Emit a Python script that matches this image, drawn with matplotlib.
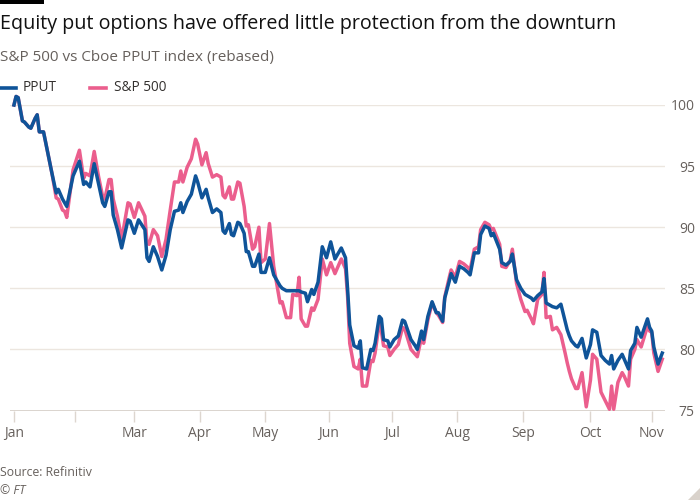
import matplotlib
matplotlib.use("Agg")
import matplotlib.pyplot as plt
from matplotlib.lines import Line2D
from matplotlib.patches import Polygon, Rectangle
import pandas as pd

plt.rcParams['font.family'] = ['Open Sans', 'DejaVu Sans']

# data (rebased to 100 on 3 Jan 2022)
dates = ["01-03", "01-04", "01-05", "01-07", "01-08", "01-10", "01-11", "01-13", "01-14", "01-15",
         "01-17", "01-19", "01-21", "01-23", "01-24", "01-26", "01-27", "01-28", "01-31", "02-03",
         "02-05", "02-06", "02-08", "02-10", "02-12", "02-14", "02-15", "02-17", "02-18", "02-19",
         "02-21", "02-23", "02-26", "02-27", "03-01", "03-03", "03-06", "03-07", "03-08", "03-10",
         "03-12", "03-14", "03-16", "03-18", "03-20", "03-22", "03-23", "03-24", "03-26", "03-28",
         "03-30", "03-31", "04-02", "04-04", "04-05", "04-07", "04-09", "04-11", "04-12", "04-13",
         "04-15", "04-16", "04-17", "04-19", "04-20", "04-22", "04-23", "04-24", "04-26", "04-27",
         "04-29", "04-30", "05-02", "05-04", "05-06", "05-09", "05-10", "05-12", "05-14", "05-15",
         "05-17", "05-18", "05-19", "05-21", "05-22", "05-24", "05-25", "05-27", "05-29", "05-31",
         "06-02", "06-04", "06-07", "06-09", "06-10", "06-11", "06-13", "06-15", "06-16", "06-17",
         "06-19", "06-21", "06-22", "06-23", "06-25", "06-26", "06-27", "06-29", "06-30", "07-02",
         "07-04", "07-06", "07-07", "07-10", "07-12", "07-13", "07-15", "07-16", "07-18", "07-20",
         "07-22", "07-23", "07-25", "07-26", "07-28", "07-29", "07-31", "08-02", "08-04", "08-06",
         "08-07", "08-09", "08-11", "08-12", "08-14", "08-16", "08-17", "08-18", "08-21", "08-22",
         "08-24", "08-26", "08-27", "08-29", "08-31", "09-02", "09-03", "09-05", "09-06", "09-08",
         "09-10", "09-11", "09-12", "09-14", "09-15", "09-17", "09-19", "09-21", "09-22", "09-23",
         "09-24", "09-26", "09-27", "09-29", "10-01", "10-03", "10-04", "10-06", "10-08", "10-10",
         "10-12", "10-13", "10-14", "10-16", "10-18", "10-19", "10-21", "10-22", "10-24", "10-25",
         "10-27", "10-30", "10-31", "11-01", "11-02", "11-04", "11-06"]

pput = [100.0, 100.7, 100.6, 98.7, 98.6, 98.2, 98.1, 98.9, 99.2, 97.8,
        97.8, 96.1, 94.4, 92.8, 93.1, 92.3, 92.0, 91.7, 94.2, 95.4,
        93.5, 93.7, 93.3, 95.2, 93.6, 92.0, 91.7, 92.9, 92.9, 91.0,
        89.8, 88.3, 90.6, 90.5, 89.5, 90.6, 89.8, 87.5, 87.2, 88.4,
        87.6, 86.5, 87.7, 89.8, 91.3, 91.4, 92.0, 91.2, 92.1, 92.7,
        94.2, 93.7, 92.4, 93.1, 92.4, 91.2, 91.5, 91.2, 89.7, 89.5,
        90.3, 89.4, 89.3, 90.4, 90.3, 89.5, 88.0, 88.0, 86.8, 86.8,
        87.8, 86.3, 86.3, 87.5, 86.1, 85.2, 85.0, 84.8, 84.8, 84.8,
        84.8, 84.8, 84.7, 84.6, 83.9, 84.9, 84.5, 85.5, 88.4, 87.5,
        88.8, 87.4, 88.3, 87.5, 84.9, 82.0, 80.3, 80.1, 80.7, 78.5,
        78.4, 80.0, 79.9, 80.5, 82.7, 82.5, 80.8, 80.7, 80.2, 80.8,
        81.1, 82.4, 82.3, 80.8, 80.3, 80.0, 81.5, 80.8, 82.7, 83.9,
        83.0, 83.0, 82.3, 84.2, 85.5, 86.2, 85.5, 86.8, 86.6, 86.3,
        86.1, 87.9, 87.9, 89.4, 90.1, 89.9, 89.3, 89.5, 88.2, 87.1,
        86.9, 87.2, 87.8, 85.7, 85.0, 84.5, 84.4, 84.2, 84.0, 84.4,
        84.7, 85.8, 83.8, 83.6, 83.5, 83.4, 83.7, 82.3, 81.6, 81.1,
        80.7, 80.3, 80.2, 80.9, 79.3, 80.4, 81.6, 81.4, 79.5, 79.1,
        78.8, 79.5, 78.4, 79.1, 79.6, 79.2, 78.4, 79.9, 80.5, 81.8,
        81.0, 82.5, 81.8, 81.5, 80.2, 78.8, 79.7]

spx = [100.0, 100.7, 100.6, 98.7, 98.6, 98.2, 98.1, 98.9, 99.2, 97.8,
       97.8, 96.1, 94.4, 92.4, 92.3, 91.4, 91.3, 90.8, 94.7, 96.3,
       94.0, 94.4, 94.2, 96.2, 94.2, 92.5, 92.3, 93.9, 93.9, 92.3,
       90.9, 89.0, 92.0, 91.9, 90.8, 92.0, 90.9, 88.7, 88.6, 89.8,
       89.3, 87.6, 89.0, 91.4, 93.7, 93.7, 94.6, 93.7, 94.9, 95.6,
       97.2, 96.8, 95.1, 96.1, 95.2, 94.1, 94.3, 94.1, 92.6, 92.4,
       93.3, 92.3, 92.3, 93.7, 93.6, 91.7, 90.1, 90.2, 88.2, 88.4,
       90.0, 87.1, 87.4, 90.3, 86.8, 83.8, 83.9, 82.6, 82.6, 84.5,
       84.4, 85.9, 82.5, 81.9, 81.9, 83.4, 83.2, 84.1, 87.4, 86.1,
       87.1, 86.2, 87.4, 86.6, 84.3, 80.5, 78.6, 78.4, 79.2, 77.0,
       77.0, 79.1, 79.0, 79.7, 82.2, 81.5, 80.3, 80.2, 79.5, 80.0,
       80.4, 81.8, 81.7, 80.0, 79.6, 79.4, 81.0, 80.5, 82.4, 83.8,
       83.0, 82.8, 82.2, 84.3, 85.8, 86.5, 85.9, 87.2, 87.0, 86.7,
       86.5, 88.2, 88.4, 89.8, 90.4, 90.2, 89.8, 89.9, 88.6, 86.8,
       86.7, 87.3, 88.2, 85.4, 84.1, 83.1, 83.2, 82.5, 82.1, 84.1,
       84.5, 86.3, 82.6, 82.7, 81.6, 81.8, 81.2, 79.7, 78.9, 78.2,
       77.6, 76.8, 76.8, 78.1, 75.3, 77.5, 79.6, 79.2, 76.5, 75.8,
       75.1, 77.0, 75.1, 77.3, 78.1, 77.8, 77.0, 79.2, 80.0, 80.8,
       80.2, 81.9, 81.5, 81.4, 79.7, 78.2, 79.2]

series_names = ["PPUT", "S&P 500"]
colors = ["#0f5499", "#eb5e8d"]
month_ticks = ["01-03", "02-01", "03-01", "04-01", "05-02", "06-01",
               "07-01", "08-01", "09-01", "10-03", "11-01"]
month_labels = ["Jan", "", "Mar", "Apr", "May", "Jun", "Jul", "Aug", "Sep", "Oct", "Nov"]
y_ticks = [75, 80, 85, 90, 95, 100]

x = pd.to_datetime(["2022-" + d for d in dates])

W, H = 700, 500
fig = plt.figure(figsize=(7, 5), dpi=100, facecolor="white")
ax = fig.add_axes([10 / W, 1 - 410.5 / H, 655 / W, (410.5 - 105) / H])

ax.plot(x, spx, color=colors[1], lw=2.5, clip_on=False, zorder=3, solid_joinstyle="round")
ax.plot(x, pput, color=colors[0], lw=2.5, clip_on=False, zorder=4, solid_joinstyle="round")

ax.set_ylim(75, 100)
ax.set_xlim(pd.Timestamp("2022-01-01 03:00"), pd.Timestamp("2022-11-07 07:00"))

for s in ax.spines.values():
    s.set_visible(False)

ax.set_yticks(y_ticks)
ax.yaxis.tick_right()
ax.tick_params(axis="y", length=0, pad=21.5, labelsize=10, labelcolor="#66605c")
for lab in ax.get_yticklabels():
    lab.set_horizontalalignment("right")
ax.grid(axis="y", color="#ece6df", lw=1, zorder=0)
ax.axhline(75, color="#ccc4bc", lw=1.8, zorder=1)

ax.set_xticks(pd.to_datetime(["2022-" + d for d in month_ticks]))
ax.set_xticklabels(month_labels)
ax.tick_params(axis="x", length=8, width=1, color="#ddd6cf", pad=3,
               labelsize=10, labelcolor="#66605c")

# header
fig.add_artist(Rectangle((0, 1 - 4 / H), 44 / W, 4 / H, transform=fig.transFigure,
                         color="black", lw=0))
fig.text(0, 1 - 24 / H, "Equity put options have offered little protection from the downturn",
         fontsize=14.2, color="#111111", va="center", ha="left")
fig.text(0, 1 - 58 / H, "S&P 500 vs Cboe PPUT index (rebased)",
         fontsize=11, color="#66605c", va="center", ha="left")

# legend
leg_y = 1 - 88 / H
for x0, x1, tx, name, c in [(0, 16, 23, series_names[0], colors[0]),
                            (90, 106, 114, series_names[1], colors[1])]:
    fig.add_artist(Line2D([x0 / W, x1 / W], [leg_y, leg_y], transform=fig.transFigure,
                          color=c, lw=2.6))
    fig.text(tx / W, leg_y, name, fontsize=9.8, color="#33302e", va="center", ha="left")

# footer
fig.text(0, 1 - 472 / H, "Source: Refinitiv", fontsize=8.8, color="#66605c", va="center")
fig.text(0, 1 - 490 / H, "\u00a9 FT", fontsize=8.8, color="#66605c", va="center", style="italic")
fig.add_artist(Polygon([[1 - 12 / W, 0], [1, 12 / H], [1, 0]], closed=True,
                       transform=fig.transFigure, color="#d9d2cb", lw=0))

fig.savefig("out.png", dpi=100, facecolor="white")
